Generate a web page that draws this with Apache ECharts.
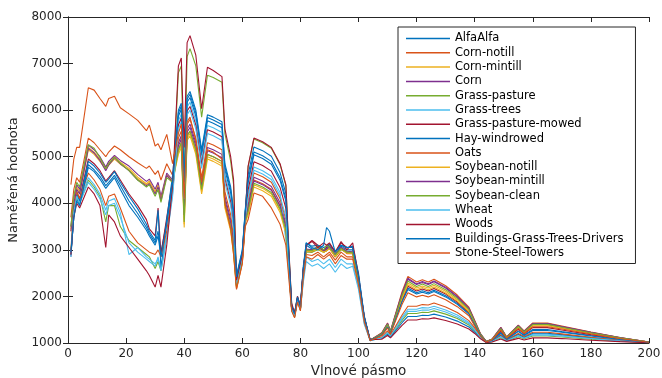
<!DOCTYPE html>
<html><head><meta charset="utf-8">
<script src="https://cdn.jsdelivr.net/npm/echarts@6/dist/echarts.min.js"></script>
<style>html,body{margin:0;padding:0;background:#fff}#c{width:662px;height:378px}</style>
</head><body><div id="c"></div>
<script>
const bands = [1,2,3,4,7,9,11,13,14,16,18,21,24,27,28,30,31,32,34,36,
 38,39,40,41,42,44,46,48,50,53,54,56,57,
 58,60,61,62,64,67,70,73,75,76,77,78,79,80,
 81,82,84,86,88,89,90,92,94,96,98,100,102,104,
 108,110,111,115,117,120,122,124,126,130,134,138,140,142,144,
 146,149,151,155,157,160,165,170,180,190,200];

const xTicks = [0,20,40,60,80,100,120,140,160,180,200];
const yTicks = [1000,2000,3000,4000,5000,6000,7000,8000];

const names = ['AlfaAlfa','Corn-notill','Corn-mintill','Corn','Grass-pasture','Grass-trees','Grass-pasture-mowed','Hay-windrowed','Oats','Soybean-notill','Soybean-mintill','Soybean-clean','Wheat','Woods','Buildings-Grass-Trees-Drivers','Stone-Steel-Towers'];

const alfaAlfa = [2900,3700,4100,3980,4830,4720,4580,4380,4450,4600,4380,4050,3780,3480,3350,3150,3400,2950,3600,4500,
 5870,6020,4400,6170,6270,5870,5020,5770,5720,5620,4720,4220,3720,
 2400,2950,3800,4440,5040,4960,4840,4490,4040,2850,1770,1610,1970,1760,
 2550,3100,3020,3050,2980,3020,3080,2900,3080,3000,3000,2400,1550,1060,
 1180,1355,1210,1910,2180,2080,2120,2080,2135,2015,1850,1640,1400,1165,1025,
 1060,1225,1085,1260,1175,1290,1290,1245,1160,1080,1015];
const cornNotill = [3700,4300,4550,4450,5400,5300,5150,5000,5100,5230,5150,5000,4870,4750,4800,4620,4700,4500,4850,4600,
 5150,5300,3800,5450,5550,5150,4300,5050,5000,4900,4000,3500,3000,
 2170,2720,3570,3900,4500,4420,4300,3950,3500,2600,1730,1580,1930,1730,
 2500,2980,2950,3050,2950,2980,3030,2850,3020,2920,2920,2330,1490,1060,
 1220,1430,1260,2100,2430,2310,2360,2310,2370,2230,2030,1770,1490,1200,1030,
 1085,1335,1130,1385,1260,1430,1430,1365,1235,1115,1020];
const cornMintill = [3450,4050,4350,4250,5200,5100,4950,4760,4860,5000,4880,4750,4560,4420,4480,4250,4400,4100,4620,4480,
 5100,5250,3550,5400,5500,5100,4250,5000,4950,4850,3950,3450,2950,
 2200,2750,3600,3800,4400,4320,4200,3850,3400,2580,1720,1570,1920,1720,
 2500,2980,2980,3030,2960,2990,3040,2870,3030,2940,2930,2340,1490,1060,
 1195,1390,1230,1995,2290,2180,2225,2180,2240,2110,1930,1700,1440,1180,1025,
 1080,1305,1115,1350,1235,1390,1390,1330,1215,1105,1020];
const corn = [3500,4100,4400,4300,5250,5150,5000,4780,4900,5030,4920,4800,4620,4470,4520,4300,4450,4150,4650,4500,
 5300,5450,3900,5600,5700,5300,4450,5200,5150,5050,4150,3650,3150,
 2250,2800,3650,3960,4560,4480,4360,4010,3560,2650,1740,1590,1940,1740,
 2550,3000,3000,3080,2980,3000,3060,2880,3050,2950,2950,2350,1500,1060,
 1210,1420,1250,2070,2390,2270,2320,2270,2330,2200,2000,1750,1470,1190,1030,
 1085,1330,1125,1380,1250,1420,1420,1355,1230,1115,1020];
const grassPasture = [2950,3800,4150,4000,4500,4350,4150,3600,3950,3950,3500,3200,3050,2900,2850,2600,2750,2550,3300,4300,
 6800,6950,4400,7150,7320,6950,5850,6750,6700,6600,5500,4900,4400,
 2330,2880,3730,4780,5380,5300,5180,4830,4380,3000,1820,1630,1980,1780,
 2500,2950,2950,3000,2950,2980,3050,2850,3000,2950,2920,2350,1500,1060,
 1105,1205,1140,1485,1635,1635,1660,1655,1690,1620,1525,1385,1260,1115,1015,
 1030,1115,1045,1135,1090,1150,1150,1130,1080,1040,1005];
const grassTrees = [2950,3850,4200,4050,4550,4400,4200,3850,4050,4100,3800,2900,3050,2850,2800,2700,2800,2600,3300,4200,
 5770,5920,4200,6070,6170,5770,4920,5670,5620,5520,4620,4120,3620,
 2300,2850,3700,4180,4780,4700,4580,4230,3200,2500,1700,1560,1900,1700,
 2300,2750,2650,2700,2600,2650,2700,2520,2700,2600,2650,2150,1400,1050,
 1120,1235,1160,1555,1725,1725,1760,1750,1790,1710,1600,1440,1300,1135,1015,
 1040,1150,1055,1170,1115,1190,1190,1160,1105,1050,1010];
const grassPastureMowed = [2900,3800,4250,4100,4950,4850,4700,4480,4550,4700,4500,4200,3950,3650,3450,3300,3900,2900,3700,4500,
 5680,5830,4300,5980,6080,5680,4830,5580,5530,5430,4530,4030,3530,
 2320,2870,3720,4290,4890,4810,4690,4340,3890,2800,1760,1600,1960,1750,
 2600,3100,3200,3100,3000,3050,3120,2950,3150,3050,3050,2400,1550,1070,
 1185,1365,1220,1940,2220,2115,2160,2115,2170,2050,1880,1660,1415,1170,1025,
 1065,1255,1100,1295,1200,1330,1330,1280,1180,1090,1015];
const hayWindrowed = [2850,3750,4200,4050,4900,4800,4650,4450,4520,4680,4450,4150,3880,3550,3400,3200,3850,2600,3650,4600,
 6000,6150,4500,6300,6400,6000,5150,5900,5850,5750,4850,4350,3850,
 2450,3000,3850,4610,5210,5130,5010,4660,4210,2950,1800,1640,2000,1790,
 2650,3150,3080,3100,3050,3080,3120,2980,3100,3050,3080,2500,1580,1070,
 1095,1185,1125,1435,1570,1570,1595,1590,1620,1560,1470,1345,1235,1105,1010,
 1040,1165,1065,1190,1125,1210,1210,1180,1115,1055,1010];
const oats = [3000,3900,4250,4100,4650,4500,4300,3950,4150,4200,3900,3400,3150,3000,2950,2900,3000,2850,3400,4300,
 5400,5550,4000,5700,5800,5400,4550,5300,5250,5150,4250,3750,3250,
 2250,2800,3650,4050,4650,4570,4450,4100,3650,2600,1720,1570,1920,1720,
 2450,2900,2880,2950,2850,2900,2950,2780,2950,2850,2850,2300,1480,1060,
 1130,1260,1170,1600,1790,1790,1825,1815,1860,1775,1655,1480,1325,1145,1015,
 1045,1180,1070,1205,1140,1230,1230,1195,1125,1060,1010];
const soybeanNotill = [3400,4000,4300,4200,5150,5050,4900,4720,4820,4950,4840,4720,4520,4400,4450,4230,4380,4080,4600,4470,
 5050,5200,3480,5350,5450,5050,4200,4950,4900,4800,3900,3400,2900,
 2180,2730,3580,3750,4350,4270,4150,3800,3350,2560,1710,1560,1910,1710,
 2500,2970,2970,3020,2950,2980,3030,2860,3020,2930,2930,2330,1490,1060,
 1190,1375,1225,1960,2250,2145,2190,2145,2200,2075,1900,1675,1425,1175,1025,
 1075,1290,1110,1335,1220,1370,1370,1315,1205,1100,1020];
const soybeanMintill = [3400,4000,4300,4200,5180,5080,4920,4700,4820,4980,4850,4700,4500,4380,4420,4200,4350,4050,4600,4450,
 5230,5380,3750,5530,5630,5230,4380,5130,5080,4980,4080,3580,3080,
 2230,2780,3630,3880,4480,4400,4280,3930,3480,2620,1730,1580,1930,1730,
 2550,3020,3000,3050,3000,3020,3070,2900,3050,2970,2960,2360,1500,1060,
 1205,1410,1245,2055,2370,2255,2300,2255,2315,2180,1985,1740,1465,1190,1030,
 1080,1320,1125,1370,1245,1410,1410,1350,1225,1110,1020];
const soybeanClean = [3500,4150,4450,4350,5260,5180,4980,4740,4850,4990,4860,4700,4500,4350,4400,4150,4300,4020,4550,4450,
 5150,5300,3600,5450,5550,5150,4300,5050,5000,4900,4000,3500,3000,
 2220,2770,3620,3830,4430,4350,4230,3880,3430,2600,1720,1570,1920,1720,
 2550,3000,2980,3080,3000,3100,3050,2900,3030,2950,2950,2350,1500,1060,
 1200,1400,1240,2025,2330,2215,2265,2215,2275,2145,1960,1720,1450,1185,1030,
 1080,1310,1120,1360,1240,1400,1400,1340,1220,1110,1020];
const wheat = [2900,3800,4150,4000,4450,4300,4100,3750,3950,4000,3700,3150,2950,2800,2750,2650,2850,2550,3250,4150,
 5600,5750,4100,5900,6000,5600,4750,5500,5450,5350,4450,3950,3450,
 2280,2830,3680,4110,4710,4630,4510,4160,3710,2650,1720,1570,1920,1720,
 2350,2850,2750,2800,2700,2750,2800,2620,2800,2700,2700,2200,1420,1050,
 1110,1220,1150,1520,1680,1680,1710,1705,1740,1665,1560,1415,1280,1125,1015,
 1035,1135,1050,1155,1100,1170,1170,1145,1095,1045,1010];
const woods = [2900,3700,4000,3900,4350,4200,3950,3050,3750,3600,3300,3050,2800,2550,2450,2200,2450,2200,3100,4400,
 6950,7120,5200,7450,7600,7180,6030,6920,6850,6720,5600,5000,4500,
 2350,2900,3750,4800,5400,5320,5200,4850,4400,3050,1850,1650,2000,1800,
 2600,3100,3180,3050,3150,3100,3150,2950,3180,3000,3150,2450,1550,1070,
 1080,1160,1110,1380,1495,1495,1520,1515,1540,1485,1410,1300,1205,1090,1010,
 1020,1085,1035,1100,1065,1110,1110,1095,1060,1030,1005];
const buildings = [2950,3700,4050,3950,4770,4680,4520,4320,4400,4550,4300,3950,3700,3420,3300,3100,3300,2850,3550,4450,
 5940,6090,4450,6240,6340,5940,5090,5840,5790,5690,4790,4290,3790,
 2420,2970,3820,4500,5100,5020,4900,4550,4100,2900,1780,1620,1980,1770,
 2600,3150,3050,3000,3100,3480,3400,2950,3100,3050,3050,2450,1550,1060,
 1170,1345,1205,1885,2150,2050,2090,2050,2105,1990,1830,1620,1390,1160,1025,
 1055,1210,1080,1245,1160,1270,1270,1230,1150,1075,1015];
const stone = [4400,4950,5200,5200,6480,6430,6250,6080,6250,6300,6050,5920,5780,5560,5680,5230,5280,5150,5480,4850,
 5500,5700,4100,5750,5850,5350,4450,5150,5100,4950,4000,3450,2900,
 2150,2700,3500,3650,4220,4150,3900,3550,3100,2400,1680,1540,1880,1690,
 2400,2850,2800,2900,2800,2850,2900,2700,2880,2800,2800,2250,1450,1050,
 1160,1325,1195,1830,2080,1990,2025,1990,2035,1930,1780,1585,1365,1150,1020,
 1070,1275,1105,1315,1210,1350,1350,1300,1195,1095,1015];

const values = [alfaAlfa,cornNotill,cornMintill,corn,grassPasture,grassTrees,grassPastureMowed,hayWindrowed,oats,soybeanNotill,soybeanMintill,soybeanClean,wheat,woods,buildings,stone];
const colors = ['#0072BD','#D95319','#EDB120','#7E2F8E','#77AC30','#4DBEEE','#A2142F','#0072BD','#D95319','#EDB120','#7E2F8E','#77AC30','#4DBEEE','#A2142F','#0072BD','#D95319'];

values.forEach((v,i)=>{ if(v.length!==bands.length) throw new Error(names[i]+' length '+v.length); });

const series = names.map((n,i)=>({
  name:n, type:'line', xAxisIndex:0, yAxisIndex:0, symbol:'none', smooth:false,
  lineStyle:{width:1.1, color:colors[i]}, itemStyle:{color:colors[i]},
  data: bands.map((b,k)=>[b, values[i][k]])
}));

const axisCol = '#262626';
const plain = v => String(v);
const chart = echarts.init(document.getElementById('c'), null, {renderer:'canvas'});
chart.setOption({
  animation:false,
  backgroundColor:'#fff',
  color: colors,
  grid:{left:68, right:13, top:17, bottom:35, containLabel:false, outerBoundsMode:'none'},
  legend:{
    orient:'vertical', left:398, top:27, data:names,
    icon:'rect', itemWidth:44, itemHeight:1.5, itemGap:1.3,
    padding:[5,12,4,8], borderColor:axisCol, borderWidth:1, backgroundColor:'#fff',
    textStyle:{fontFamily:'DejaVu Sans', fontSize:11.5, lineHeight:13, color:'#000'}
  },
  xAxis:[{
    type:'value', min:xTicks[0], max:xTicks[xTicks.length-1], interval:20,
    name:'Vlnové pásmo', nameLocation:'middle', nameGap:20,
    nameTextStyle:{fontFamily:'DejaVu Sans', fontSize:13.5, color:axisCol},
    axisLine:{show:true, lineStyle:{color:axisCol, width:1}},
    axisTick:{show:true, inside:true, length:5, lineStyle:{color:axisCol}},
    axisLabel:{fontFamily:'DejaVu Sans', fontSize:12, color:axisCol, margin:5, formatter:plain},
    splitLine:{show:false}
  },{
    type:'value', position:'top', min:0, max:200, interval:20,
    axisLine:{show:true, lineStyle:{color:axisCol, width:1}},
    axisTick:{show:true, inside:true, length:5, lineStyle:{color:axisCol}},
    axisLabel:{show:false}, splitLine:{show:false}
  }],
  yAxis:[{
    type:'value', min:yTicks[0], max:yTicks[yTicks.length-1], interval:1000,
    name:'Naměřená hodnota', nameLocation:'middle', nameGap:40,
    nameTextStyle:{fontFamily:'DejaVu Sans', fontSize:13, color:axisCol},
    axisLine:{show:true, lineStyle:{color:axisCol, width:1}},
    axisTick:{show:true, inside:true, length:5, lineStyle:{color:axisCol}},
    axisLabel:{fontFamily:'DejaVu Sans', fontSize:12, color:axisCol, margin:6, formatter:plain},
    splitLine:{show:false}
  },{
    type:'value', position:'right', min:1000, max:8000, interval:1000,
    axisLine:{show:true, lineStyle:{color:axisCol, width:1}},
    axisTick:{show:true, inside:true, length:5, lineStyle:{color:axisCol}},
    axisLabel:{show:false}, splitLine:{show:false}
  }],
  series: series
});
</script></body></html>
